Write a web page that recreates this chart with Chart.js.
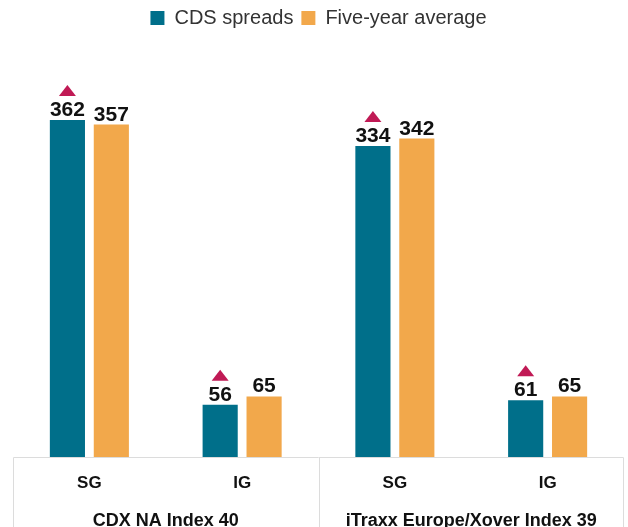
<!DOCTYPE html>
<html>
<head>
<meta charset="utf-8">
<script src="https://cdn.jsdelivr.net/npm/chart.js@4/dist/chart.umd.min.js"></script>
<style>
  html, body { margin: 0; padding: 0; background: #fff; }
  #wrap { width: 628px; height: 527px; }
</style>
</head>
<body>
<div id="wrap"><canvas id="grafico"></canvas></div>
<script>
  // dados
  const categorias = ["SG", "IG", "SG", "IG"];
  const grupos = ["CDX NA Index 40", "iTraxx Europe/Xover Index 39"];
  const cdsSpreads = [362, 56, 334, 61];
  const mediaCincoAnos = [357, 65, 342, 65];
  const subiu = [true, true, true, true];

  const corTeal = "#006f8a";
  const corLaranja = "#f2a84b";
  const corTriangulo = "#c01a55";
  const corLinha = "#dcdcdc";

  // rótulos e triângulos acima das barras
  const rotulosPlugin = {
    id: "rotulos",
    afterDatasetsDraw(chart) {
      const ctx = chart.ctx;
      ctx.save();
      ctx.font = "bold 21px 'Liberation Sans', Arial, sans-serif";
      ctx.textAlign = "center";
      ctx.textBaseline = "alphabetic";
      chart.data.datasets.forEach((ds, di) => {
        chart.getDatasetMeta(di).data.forEach((bar, i) => {
          ctx.fillStyle = "#111";
          ctx.fillText(ds.data[i], bar.x, bar.y - 4);
          if (di === 0 && subiu[i]) {
            const base = bar.y - 24;
            ctx.fillStyle = corTriangulo;
            ctx.beginPath();
            ctx.moveTo(bar.x - 8.5, base);
            ctx.lineTo(bar.x + 8.5, base);
            ctx.lineTo(bar.x, base - 11);
            ctx.closePath();
            ctx.fill();
          }
        });
      });
      ctx.restore();
    },
  };

  // moldura do eixo x (linhas da tabela)
  const molduraPlugin = {
    id: "moldura",
    afterDraw(chart) {
      const ctx = chart.ctx;
      const x = chart.scales.x;
      const topo = chart.chartArea.bottom + 0.5;
      const fundo = chart.height;
      const meio = Math.round((x.getPixelForValue(1) + x.getPixelForValue(2)) / 2) + 0.5;
      const esq = Math.round(x.left) + 0.5;
      const dir = Math.round(x.right) - 0.5;
      ctx.save();
      ctx.strokeStyle = corLinha;
      ctx.lineWidth = 1;
      ctx.beginPath();
      ctx.moveTo(esq, topo);
      ctx.lineTo(dir, topo);
      [esq, meio, dir].forEach((px) => {
        ctx.moveTo(px, topo);
        ctx.lineTo(px, fundo);
      });
      ctx.stroke();
      ctx.restore();
    },
  };

  new Chart(document.getElementById("grafico"), {
    type: "bar",
    data: {
      labels: categorias,
      datasets: [
        {
          label: "CDS spreads",
          data: cdsSpreads,
          backgroundColor: corTeal,
          categoryPercentage: 0.575,
          barPercentage: 0.8,
        },
        {
          label: "Five-year average",
          data: mediaCincoAnos,
          backgroundColor: corLaranja,
          categoryPercentage: 0.575,
          barPercentage: 0.8,
        },
      ],
    },
    options: {
      responsive: true,
      maintainAspectRatio: false,
      animation: false,
      layout: { padding: { left: 13, right: 4, top: 0, bottom: 0 } },
      plugins: {
        legend: {
          position: "top",
          labels: {
            boxWidth: 14,
            boxHeight: 14,
            padding: 8,
            color: "#333",
            font: { family: "'Liberation Sans', Arial, sans-serif", size: 20 },
          },
        },
        tooltip: { enabled: false },
      },
      scales: {
        y: {
          display: false,
          min: 0,
          max: 450,
        },
        x: {
          position: "bottom",
          weight: 0,
          grid: { display: false },
          border: { display: false },
          ticks: {
            padding: 8,
            color: "#111",
            font: { family: "'Liberation Sans', Arial, sans-serif", size: 17, weight: "bold" },
          },
          afterFit: (scale) => { scale.height = 45; },
        },
        x2: {
          type: "category",
          position: "bottom",
          weight: 1,
          labels: grupos,
          offset: true,
          grid: { display: false },
          border: { display: false },
          ticks: {
            padding: 0,
            color: "#111",
            font: { family: "'Liberation Sans', Arial, sans-serif", size: 18, weight: "bold" },
          },
          afterFit: (scale) => { scale.height = 25; },
        },
      },
    },
    plugins: [rotulosPlugin, molduraPlugin],
  });
</script>
</body>
</html>
